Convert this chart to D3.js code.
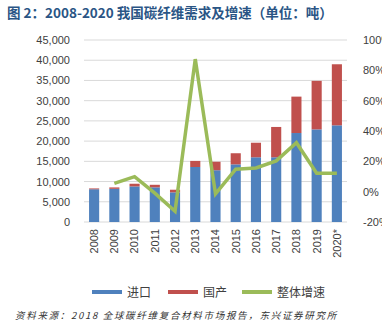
<!DOCTYPE html>
<html>
<head>
<meta charset="utf-8">
<script src="https://cdn.jsdelivr.net/npm/d3@7"></script>
<style>
  body { margin: 0; background: #fff; }
  text { font-family: "Liberation Sans", "Noto Sans CJK SC", sans-serif; }
</style>
</head>
<body>
<div id="chart"></div>
<script>
let years = ['2008','2009','2010','2011','2012','2013','2014','2015','2016','2017','2018','2019','2020*'];
let imported = [8100, 8200, 8800, 8570, 7330, 13600, 12800, 14250, 16000, 16000, 22000, 22900, 23900];
let domestic = [200, 350, 660, 630, 650, 1500, 2100, 2750, 3600, 7500, 9000, 12000, 15100];
let growth = [null, 5.5, 9.9, -1.0, -12.9, 87.4, -1.5, 14.8, 15.6, 20.3, 32.3, 12.1, 12.1];
let leftTicks = [0, 5000, 10000, 15000, 20000, 25000, 30000, 35000, 40000, 45000];
let rightTicks = [-20, 0, 20, 40, 60, 80, 100];

let W = 382, H = 336;
let margin = {top: 40, right: 35, bottom: 114, left: 84},
    width = W - margin.left - margin.right,
    height = H - margin.top - margin.bottom;

let svg = d3.select('#chart').append('svg')
    .attr('width', W).attr('height', H);

svg.append('text')
    .attr('x', 7).attr('y', 18)
    .attr('fill', '#2a5585')
    .style('font-size', '13.5px')
    .style('font-weight', 'bold')
    .style('font-family', '"Noto Sans CJK SC", sans-serif')
    .text('图 2：2008-2020 我国碳纤维需求及增速（单位：吨）');

let g = svg.append('g')
    .attr('transform', `translate(${margin.left},${margin.top})`);

let x = d3.scaleBand().domain(years).range([0, width]).paddingInner(0.5).paddingOuter(0.25);
let y = d3.scaleLinear().domain([0, 45000]).range([height, 0]);
let y2 = d3.scaleLinear().domain([-20, 100]).range([height, 0]);

// gridlines
g.append('g').selectAll('line').data(leftTicks).enter().append('line')
    .attr('x1', 0).attr('x2', width)
    .attr('y1', d => y(d)).attr('y2', d => y(d))
    .attr('stroke', '#d9d9d9').attr('stroke-width', 1);

// left axis
let ax = g.append('g').call(d3.axisLeft(y).tickValues(leftTicks).tickFormat(d3.format(',')).tickSize(0).tickPadding(14));
ax.select('.domain').remove();
ax.selectAll('text').style('font-size', '11px').attr('fill', '#404040')
    .style('font-family', '"Liberation Sans", sans-serif');

// right axis
let ar = g.append('g').attr('transform', `translate(${width},0)`)
    .call(d3.axisRight(y2).tickValues(rightTicks).tickFormat(d => d + '%').tickSize(0).tickPadding(16));
ar.select('.domain').remove();
ar.selectAll('text').style('font-size', '11px').attr('fill', '#404040')
    .style('font-family', '"Liberation Sans", sans-serif');

// x axis
let axb = g.append('g').attr('transform', `translate(0,${height})`)
    .call(d3.axisBottom(x).tickSize(0).tickPadding(0));
axb.select('.domain').remove();
axb.selectAll('text')
    .style('font-size', '11px').attr('fill', '#404040')
    .style('font-family', '"Liberation Sans", sans-serif')
    .attr('text-anchor', 'end')
    .attr('transform', 'rotate(-90)')
    .attr('x', -7).attr('y', 0).attr('dy', '0.35em');

// bars
let bars = g.append('g');
bars.selectAll('.imp').data(years).enter().append('rect')
    .attr('x', d => x(d)).attr('width', x.bandwidth())
    .attr('y', (d, i) => y(imported[i]))
    .attr('height', (d, i) => y(0) - y(imported[i]))
    .attr('fill', '#4f81bd');
bars.selectAll('.dom').data(years).enter().append('rect')
    .attr('x', d => x(d)).attr('width', x.bandwidth())
    .attr('y', (d, i) => y(imported[i] + domestic[i]))
    .attr('height', (d, i) => y(imported[i]) - y(imported[i] + domestic[i]))
    .attr('fill', '#c0504d');

// growth line
let line = d3.line()
    .defined(d => d.v !== null)
    .x(d => x(d.k) + x.bandwidth() / 2)
    .y(d => y2(d.v));
g.append('path')
    .datum(years.map((k, i) => ({k: k, v: growth[i]})))
    .attr('d', line)
    .attr('fill', 'none')
    .attr('stroke', '#9bbb59')
    .attr('stroke-width', 3.5);

// legend
let legend = [
    {label: '进口', color: '#4f81bd', x: 92},
    {label: '国产', color: '#c0504d', x: 168},
    {label: '整体增速', color: '#9bbb59', x: 242}
];
let lg = svg.append('g');
legend.forEach(function(l) {
    lg.append('line')
        .attr('x1', l.x).attr('x2', l.x + 30)
        .attr('y1', 292).attr('y2', 292)
        .attr('stroke', l.color).attr('stroke-width', 4);
    lg.append('text')
        .attr('x', l.x + 35).attr('y', 296.5)
        .style('font-size', '12px')
        .style('font-family', '"Noto Sans CJK SC", sans-serif')
        .attr('fill', '#404040')
        .text(l.label);
});

svg.append('text')
    .attr('x', 15).attr('y', 319)
    .style('font-size', '9.5px')
    .style('font-style', 'italic')
    .style('letter-spacing', '1.7px')
    .style('font-family', '"Noto Sans CJK SC", sans-serif')
    .attr('fill', '#333')
    .text('资料来源：2018 全球碳纤维复合材料市场报告，东兴证券研究所');
</script>
</body>
</html>
